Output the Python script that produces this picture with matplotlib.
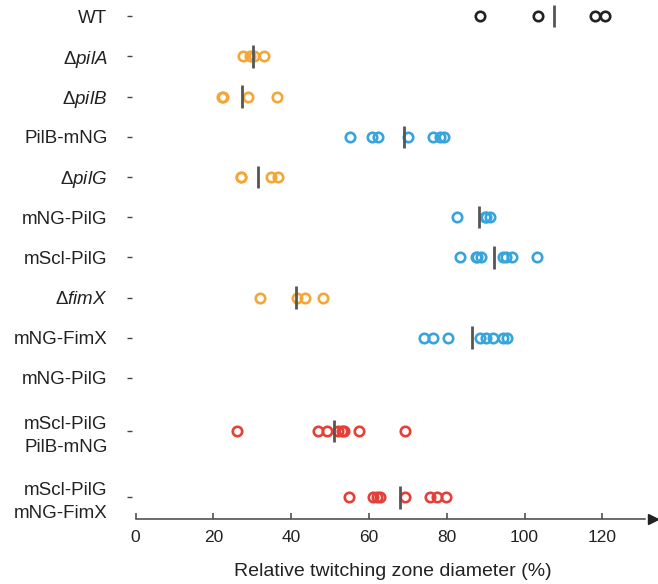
import numpy as np
import matplotlib
matplotlib.use('Agg')
import matplotlib.pyplot as plt

plt.rcParams['font.family'] = ['Liberation Sans', 'DejaVu Sans']
plt.rcParams['mathtext.fontset'] = 'custom'
plt.rcParams['mathtext.it'] = 'Liberation Sans:italic'
plt.rcParams['mathtext.rm'] = 'Liberation Sans'

labels = ['WT', r'Δ$\mathit{pilA}$', r'Δ$\mathit{pilB}$', 'PilB-mNG', r'Δ$\mathit{pilG}$',
          'mNG-PilG', 'mScl-PilG', r'Δ$\mathit{fimX}$', 'mNG-FimX', 'mNG-PilG',
          'mScl-PilG\nPilB-mNG', 'mScl-PilG\nmNG-FimX']

wt = [88.5, 103.5, 118.1, 120.6]
pilA = [27.5, 29.4, 30.5, 33.1]
pilB = [22.1, 22.4, 28.8, 36.4]
pilB_mng = [55.1, 60.7, 62.4, 69.9, 76.5, 78.2, 79.3]
pilG = [27.0, 27.2, 34.8, 36.5]
mng_pilG = [82.5, 89.8, 90.2, 91.1]
mscl_pilG = [83.5, 87.5, 87.7, 88.9, 94.5, 95.2, 96.7, 103.2]
fimX = [32.0, 41.4, 43.5, 48.1]
mng_fimX = [74.1, 76.5, 80.4, 88.5, 90.0, 91.9, 94.5, 95.5]
mng_pilG_2 = []
mscl_pilG_pilB = [26.0, 46.9, 49.3, 52.1, 53.0, 53.5, 57.5, 69.3]
mscl_pilG_fimX = [54.9, 61.1, 62.0, 62.8, 69.2, 75.8, 77.4, 79.9]

series = [wt, pilA, pilB, pilB_mng, pilG, mng_pilG, mscl_pilG, fimX, mng_fimX,
          mng_pilG_2, mscl_pilG_pilB, mscl_pilG_fimX]

black, orange, blue, red = '#222222', '#F4A736', '#38A4DC', '#E3403A'
colors = [black, orange, orange, blue, orange, blue, blue, orange, blue, blue, red, red]
rows = [0, 1, 2, 3, 4, 5, 6, 7, 8, 9, 10.32, 11.97]

fig = plt.figure(figsize=(6.58, 5.84), dpi=100)
ax = fig.add_axes([0.2003, 0.1113, 0.7920, 0.885])

for y, vals, c in zip(rows, series, colors):
    if len(vals) == 0:
        continue
    ax.plot(vals, [y] * len(vals), 'o', ms=6.8, mfc='none', mec=c, mew=1.9,
            linestyle='none', zorder=2)
    ax.plot([np.mean(vals)] * 2, [y - 0.28, y + 0.28], color='#555555', lw=2.0,
            solid_capstyle='butt', zorder=3)

ax.set_xlim(-1.0, 133)
ax.set_ylim(12.51, -0.35)

ax.set_yticks(rows)
ax.set_yticklabels(labels, fontsize=13.5, color='#222222')
for t in ax.get_yticklabels():
    t.set_linespacing(1.45)
ax.tick_params(axis='y', length=3.5, width=1, color='#444444', pad=14)

ax.set_xticks(np.arange(0, 121, 20))
ax.tick_params(axis='x', direction='in', length=4, width=1.1, color='#444444',
               labelsize=12.5, labelcolor='#222222', pad=8)
ax.set_xlabel('Relative twitching zone diameter (%)', fontsize=14, color='#222222',
              labelpad=13)

for s in ['top', 'right', 'left']:
    ax.spines[s].set_visible(False)
ax.spines['bottom'].set_color('#444444')
ax.spines['bottom'].set_linewidth(1.1)
ax.spines['bottom'].set_bounds(0, 131)
ax.plot([1], [0], marker='>', ms=7, color='#222222', transform=ax.transAxes,
        clip_on=False)

fig.savefig('out.png', dpi=100)
